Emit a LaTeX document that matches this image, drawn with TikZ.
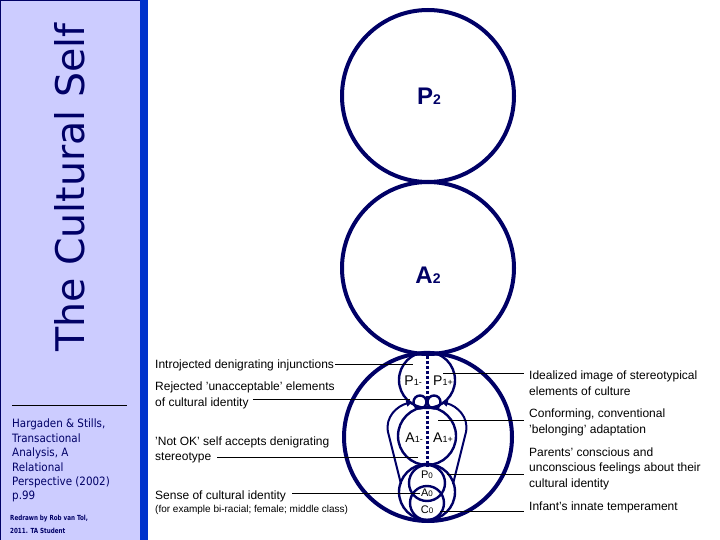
\documentclass[tikz,border=0pt]{standalone}
\usepackage{fontspec}
\setmainfont{Liberation Sans}
\newfontfamily\panelfont[FakeStretch=0.9]{DejaVu Sans}
\newfontfamily\panelbold[FakeStretch=0.8]{DejaVu Sans Bold}
\newfontfamily\titlefont{DejaVu Sans}
\usetikzlibrary{arrows.meta}
\definecolor{navy}{HTML}{000066}
\definecolor{lav}{HTML}{CCCCFF}
\definecolor{barblue}{HTML}{0033CC}
\tikzset{
  bigc/.style={circle, draw=navy, line width=4pt, inner sep=0pt},
  smallc/.style={circle, draw=navy, line width=2.4pt, inner sep=0pt},
  lbl/.style={anchor=base west, inner sep=0pt, font=\fontsize{12}{14}\selectfont},
  plbl/.style={anchor=base west, inner sep=0pt, text=navy, font=\panelfont\fontsize{11.5}{14}\selectfont},
  slbl/.style={anchor=base west, inner sep=0pt, text=navy, font=\panelbold\fontsize{7}{8}\selectfont},
  lead/.style={draw=black, line width=0.9pt},
  curvearrow/.style={draw=navy, line width=2pt, -{Triangle[length=6pt,width=6pt]}},
}
\begin{document}
\begin{tikzpicture}[x=1pt,y=-1pt]
\useasboundingbox (0,0) rectangle (720,540);
% left panel
\fill[lav] (0,0) rectangle (140,540);
\draw[navy, line width=0.8pt] (0.4,540) -- (0.4,0.4) -- (140,0.4);
\fill[barblue] (140,0) rectangle (148,540);
\node[rotate=90, anchor=base west, inner sep=0pt, text=navy,
      font=\titlefont\fontsize{39.5}{40}\selectfont] (title) at (84,352) {The Cultural Self};
\coordinate (rl0) at (12,405);
\coordinate (rl1) at (127,405);
\draw[black, line width=0.9pt] (rl0) -- (rl1);
\node[plbl] (h1) at (12,427.5) {Hargaden \& Stills,};
\node[plbl] (h2) at (12,442) {Transactional};
\node[plbl] (h3) at (12,456.5) {Analysis, A};
\node[plbl] (h4) at (12,471) {Relational};
\node[plbl] (h5) at (12,485) {Perspective (2002)};
\node[plbl] (h6) at (12,499.5) {p.99};
\node[slbl] (r1) at (10,520) {Redrawn by Rob van Tol,};
\node[slbl] (r2) at (10,533) {2011. TA Student};

% big circles
\node[bigc, minimum size=172pt] (P2) at (428,96) {};
\node[bigc, minimum size=172pt] (A2) at (428,268) {};
\node[bigc, minimum size=168pt] (C2) at (428,437) {};
\node[inner sep=0pt, anchor=base, text=navy, font=\bfseries\fontsize{24}{24}\selectfont] (P2l) at (429,105) {P{\fontsize{14}{14}\selectfont 2}};
\node[inner sep=0pt, anchor=base, text=navy, font=\bfseries\fontsize{24}{24}\selectfont] (A2l) at (428,283) {A{\fontsize{14}{14}\selectfont 2}};

% inner circles
\node[smallc, minimum size=56pt] (P1) at (427,380) {};
\node[smallc, minimum size=58pt] (A1) at (427,436) {};
\node[smallc, minimum size=13pt] (s1) at (420,402) {};
\node[smallc, minimum size=13pt] (s2) at (434,402) {};
\node[smallc, minimum size=56pt] (C1) at (427,492) {};
\node[smallc, minimum size=36pt] (Po) at (427,483) {};
\node[smallc, minimum size=34pt] (Co) at (427,503) {};
\draw[navy, line width=3pt, dash pattern=on 3pt off 2pt] (P1.north) -- (A1.south);

% curved arrows
\coordinate (la0) at (401,484);
\coordinate (la1) at (388,432);
\coordinate (ra0) at (453,484);
\coordinate (ra1) at (466,432);
\draw[curvearrow] (la0) -- (la1) .. controls (385,417) and (397,406) .. (s1.west);
\draw[curvearrow] (ra0) -- (ra1) .. controls (469,417) and (457,406) .. (s2.east);

% ego state labels
\node[anchor=base east, inner sep=0pt, font=\fontsize{14}{14}\selectfont] (P1m) at (422,385) {P{\fontsize{9}{9}\selectfont 1-}};
\node[anchor=base west, inner sep=0pt, font=\fontsize{14}{14}\selectfont] (P1p) at (433,385) {P{\fontsize{9}{9}\selectfont 1+}};
\node[anchor=base east, inner sep=0pt, font=\fontsize{14}{14}\selectfont] (A1m) at (423,442) {A{\fontsize{9}{9}\selectfont 1-}};
\node[anchor=base west, inner sep=0pt, font=\fontsize{14}{14}\selectfont] (A1p) at (433,442) {A{\fontsize{9}{9}\selectfont 1+}};
\node[inner sep=0pt, font=\fontsize{11}{11}\selectfont] (Pol) at (427,475) {P{\fontsize{8}{8}\selectfont 0}};
\node[inner sep=0pt, font=\fontsize{11}{11}\selectfont] (Aol) at (427,493) {A{\fontsize{8}{8}\selectfont 0}};
\node[inner sep=0pt, font=\fontsize{11}{11}\selectfont] (Col) at (427,510) {C{\fontsize{8}{8}\selectfont 0}};

% left annotations
\node[lbl] (t1) at (155,368) {Introjected denigrating injunctions};
\node[lbl] (t2) at (155,390.5) {Rejected 'unacceptable' elements};
\node[lbl] (t3) at (155,406) {of cultural identity};
\node[lbl] (t4) at (155,445) {'Not OK' self accepts denigrating};
\node[lbl] (t5) at (155,460) {stereotype};
\node[lbl] (t6) at (155,499) {Sense of cultural identity};
\node[lbl, font=\fontsize{10}{12}\selectfont] (t7) at (155,512) {(for example bi-racial; female; middle class)};
\coordinate (e1) at (413,364);
\coordinate (e2) at (410,399);
\coordinate (e3) at (418,457);
\coordinate (e4) at (420,493);
\draw[lead] ([xshift=1pt]t1.east |- e1) -- (e1);
\draw[lead] ([xshift=4pt]t3.east |- e2) -- (e2);
\draw[lead] ([xshift=6pt]t5.east |- e3) -- (e3);
\draw[lead] ([xshift=6pt]t6.east |- e4) -- (e4);

% right annotations
\node[lbl] (u1) at (529,379.5) {Idealized image of stereotypical};
\node[lbl] (u2) at (529,395) {elements of culture};
\node[lbl] (u3) at (529,417) {Conforming, conventional};
\node[lbl] (u4) at (529,433) {'belonging' adaptation};
\node[lbl] (u5) at (529,456) {Parents' conscious and};
\node[lbl] (u6) at (529,471.5) {unconscious feelings about their};
\node[lbl] (u7) at (529,487) {cultural identity};
\node[lbl] (u8) at (529,510) {Infant's innate temperament};
\coordinate (f1) at (443,373);
\coordinate (f2) at (438,420);
\coordinate (f3) at (447,474);
\coordinate (f4) at (440,511);
\draw[lead] (f1) -- ([xshift=-5pt]u1.west |- f1);
\draw[lead] (f2) -- ([xshift=-5pt]u3.west |- f2);
\draw[lead] (f3) -- ([xshift=-5pt]u5.west |- f3);
\draw[lead] (f4) -- ([xshift=-5pt]u8.west |- f4);
\end{tikzpicture}
\end{document}
